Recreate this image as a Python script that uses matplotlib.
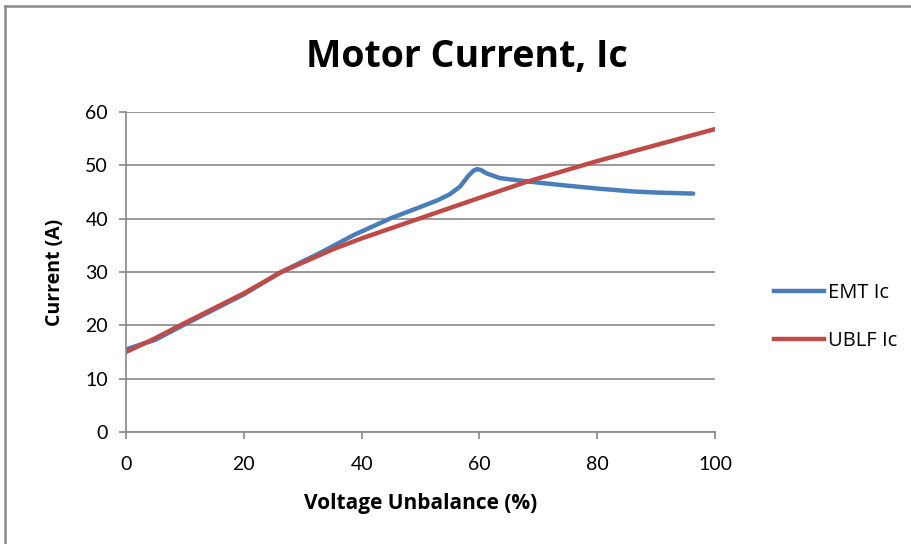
import matplotlib
matplotlib.use("Agg")
import matplotlib.pyplot as plt
from matplotlib.lines import Line2D

# Data
emt_x = [0, 5, 10, 15, 20, 26, 33, 38.6, 45, 50, 53, 55, 56.7, 58.1, 59.0, 59.6, 60.3, 61.2, 63.5, 68, 74.8, 80.5, 86.1, 90, 96.3]
emt_y = [15.5, 17.3, 20.2, 23.0, 25.8, 29.8, 33.6, 36.9, 40.1, 42.2, 43.5, 44.6, 46.0, 48.0, 49.0, 49.3, 49.1, 48.5, 47.6, 47.0, 46.2, 45.6, 45.1, 44.9, 44.7]
ublf_x = [0, 5, 9.2, 20, 26.4, 35, 40, 50, 60, 68, 80, 90, 100]
ublf_y = [15.0, 17.6, 20.0, 26.0, 30.0, 34.2, 36.3, 40.1, 43.9, 46.9, 50.8, 53.8, 56.8]
x_ticks = [0, 20, 40, 60, 80, 100]
y_ticks = [0, 10, 20, 30, 40, 50, 60]

plt.rcParams['font.family'] = ['Lato', 'DejaVu Sans']

W, H = 912, 544
fig = plt.figure(figsize=(W / 100, H / 100), dpi=100)
ax = fig.add_axes([126 / W, 1 - 432 / H, (715 - 126) / W, (432 - 112) / H])

blue = '#4A7EBB'
red = '#BE4B48'
ax.plot(emt_x, emt_y, color=blue, lw=3.2, solid_capstyle='round', solid_joinstyle='round', label='EMT Ic')
ax.plot(ublf_x, ublf_y, color=red, lw=3.2, solid_capstyle='round', solid_joinstyle='round', label='UBLF Ic')

ax.set_xlim(0, 100)
ax.set_ylim(0, 60)
ax.set_xticks(x_ticks)
ax.set_yticks(y_ticks)
ax.tick_params(axis='both', labelsize=14, color='#878787', length=5, width=1.2)
ax.tick_params(axis='y', pad=8)
ax.tick_params(axis='x', pad=12)
ax.yaxis.grid(True, color='#878787', lw=1.2)
ax.set_axisbelow(True)
for s in ['top', 'right']:
    ax.spines[s].set_visible(False)
for s in ['left', 'bottom']:
    ax.spines[s].set_color('#878787')
    ax.spines[s].set_linewidth(1.2)

lab_font = dict(family=['Open Sans', 'DejaVu Sans'], fontweight='bold')
fig.text(421 / W, 1 - 503 / H, 'Voltage Unbalance (%)', ha='center', va='center', fontsize=15, **lab_font)
fig.text(55 / W, 1 - 272 / H, 'Current (A)', ha='center', va='center', rotation=90, fontsize=14, **lab_font)
fig.text(467 / W, 1 - 57 / H, 'Motor Current, Ic', fontsize=27, fontweight='bold',
         family=['Open Sans', 'DejaVu Sans'], ha='center', va='center')

handles = [Line2D([], [], color=blue, lw=3.2), Line2D([], [], color=red, lw=3.2)]
fig.legend(handles, ['EMT Ic', 'UBLF Ic'], loc='center left',
           bbox_to_anchor=(756 / W, 1 - 317 / H), frameon=False,
           prop=dict(family=['Open Sans', 'DejaVu Sans'], size=14.5),
           handlelength=2.5, handletextpad=0.2, labelspacing=1.4)

# border
fig.add_artist(Line2D([5 / W, 1], [1 - 6 / H, 1 - 6 / H], color='#8c8c8c', lw=1.8,
                      transform=fig.transFigure))
fig.add_artist(Line2D([5 / W, 5 / W], [0, 1 - 6 / H], color='#8c8c8c', lw=1.8,
                      transform=fig.transFigure))

fig.savefig('out.png', dpi=100)
